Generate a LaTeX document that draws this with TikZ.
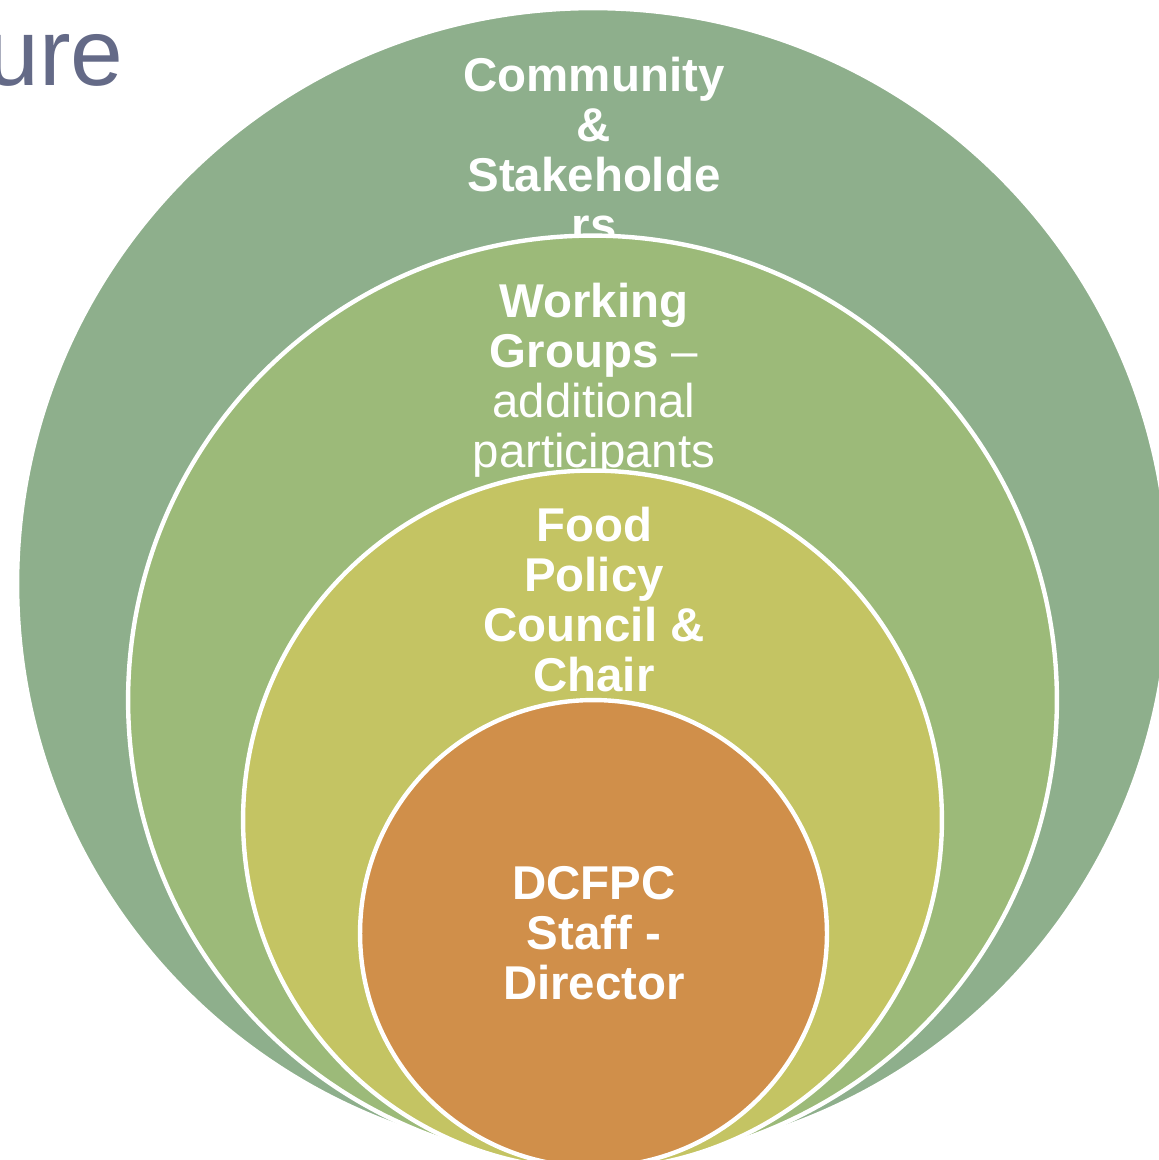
\documentclass[tikz,border=0pt]{standalone}
\usepackage{fontspec}
\setmainfont{Liberation Sans}
\usepackage{tikz}
\usetikzlibrary{positioning}
\definecolor{commgreen}{RGB}{142,175,140}
\definecolor{workgreen}{RGB}{156,186,121}
\definecolor{councilolive}{RGB}{196,196,99}
\definecolor{staffbrown}{RGB}{208,143,74}
\definecolor{titlegray}{RGB}{100,106,135}
\tikzset{ring/.style={draw=white,circle,line width=2.5pt,inner sep=0pt},lbl/.style={text=white,align=center,inner sep=0pt,font=\fontsize{27}{28.5}\selectfont\bfseries}}

\begin{document}
\begin{tikzpicture}[x=0.02cm,y=-0.02cm]
	\useasboundingbox (0,0) rectangle (1159,1160);
	\clip (0,0) rectangle (1159,1160);
	\node[anchor=base west,inner sep=0pt,text=titlegray,font=\fontsize{54}{60}\selectfont] (title) at (-14,85) {ure};

	\node[ring,fill=commgreen,minimum size=23.04cm] (comm) at (593,584) {};
	\node[lbl,anchor=north] (commtxt) at (594,57) {Community\\\&\\Stakeholde\\rs};

	\node[ring,fill=workgreen,minimum size=18.58cm] (work) at (592.5,700) {};
	\node[lbl,anchor=north] (worktxt) at (594,283) {Working\\Groups \mdseries–\\\mdseries additional\\\mdseries participants};

	\node[ring,fill=councilolive,minimum size=13.98cm] (council) at (592.5,820) {};
	\node[lbl,anchor=north] (counciltxt) at (594,507) {Food\\Policy\\Council \&\\Chair};

	\node[ring,fill=staffbrown,minimum size=9.34cm] (staff) at (593.5,933.5) {};
	\node[lbl,anchor=north] (stafftxt) at (594,866) {DCFPC\\Staff -\\Director};
\end{tikzpicture}
\end{document}
